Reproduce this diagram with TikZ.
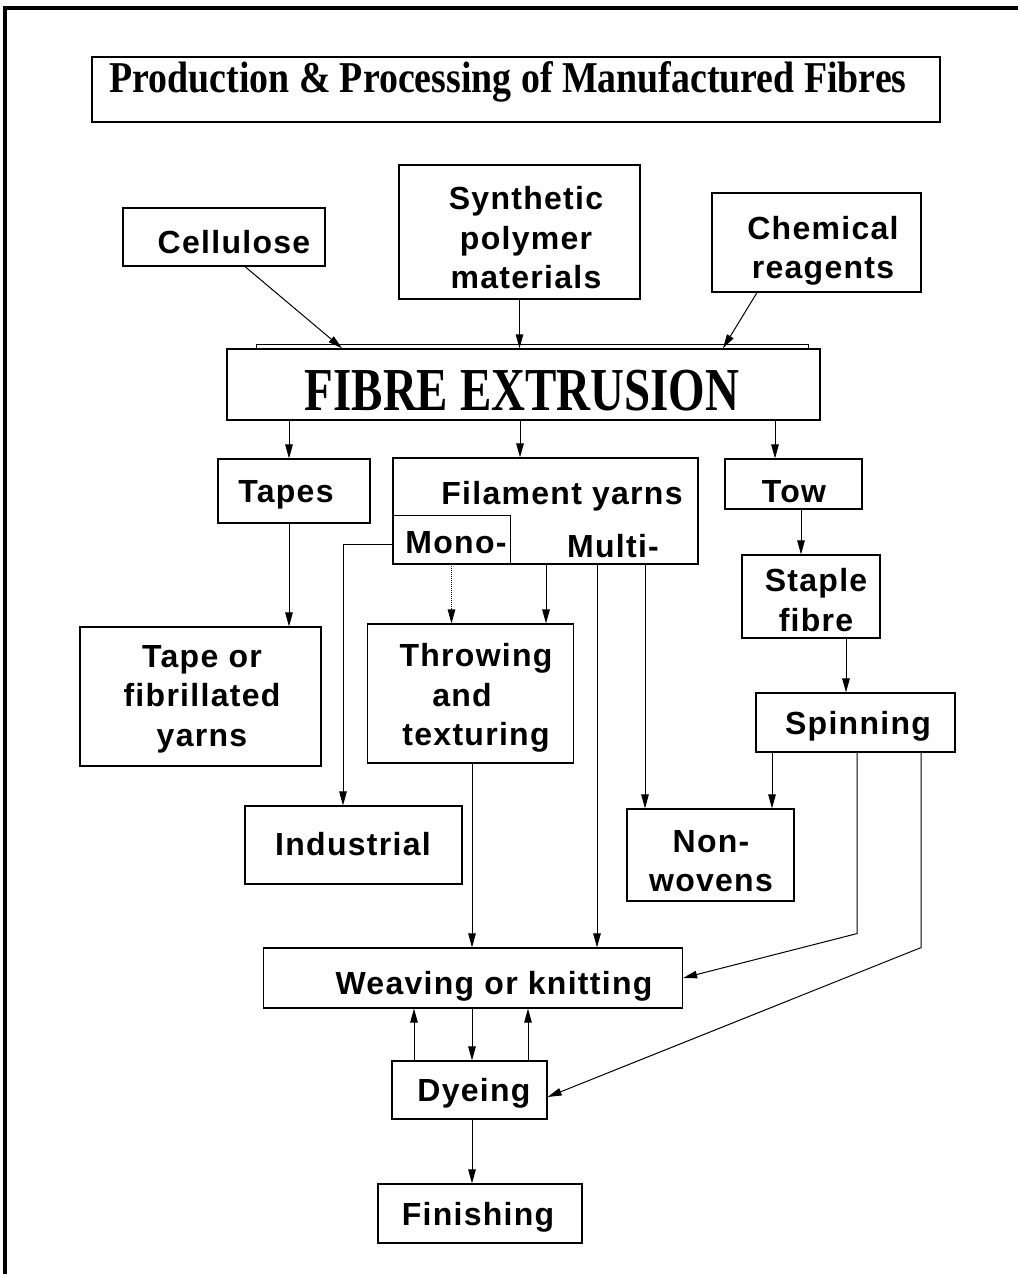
\documentclass[tikz,border=0pt]{standalone}
\usepackage{graphicx}
\usepackage{fontspec}
\setmainfont{Liberation Serif}
\newfontfamily\lblfont{Liberation Sans}[LetterSpace=4]
\usetikzlibrary{arrows.meta}
\tikzset{
  box/.style={draw, line width=1.15pt, inner sep=0pt, rectangle},
  lbl/.style={font=\lblfont\bfseries\fontsize{32}{39.5}\selectfont, align=center, inner sep=0pt},
  arr/.style={line width=1pt, -{Triangle[length=14pt,width=7.5pt]}},
  border/.style={line width=3.5pt},
}
\begin{document}
\begin{tikzpicture}[x=1pt,y=-1pt]
\useasboundingbox (0,0) rectangle (1018,1274);
% page border (top and left)
\draw[border] (5,1274) -- (5,8) -- (1018,8);

% boxes
\node[box, line width=1.5pt, minimum width=848pt, minimum height=65pt] (title) at (516,89.5) {};
\node[box, minimum width=202pt, minimum height=58pt] (cell) at (224,237) {};
\node[box, minimum width=241pt, minimum height=134pt] (syn) at (519.5,232) {};
\node[box, minimum width=209pt, minimum height=99pt] (chem) at (816.5,242.5) {};
\node[box, line width=1.5pt, minimum width=593pt, minimum height=71pt] (ext) at (523.5,384.5) {};
\node[box, minimum width=152pt, minimum height=64pt] (tapes) at (294,491) {};
\node[box, minimum width=305pt, minimum height=106pt] (fil) at (545.5,511) {};
\node[inner sep=0pt, minimum width=117pt, minimum height=48pt] (mono) at (451.5,540) {};
\node[box, minimum width=137pt, minimum height=50pt] (tow) at (793.5,484) {};
\node[box, minimum width=241pt, minimum height=139pt] (tfy) at (200.5,696.5) {};
\node[box, minimum width=206pt, minimum height=139pt] (thr) at (470.5,693.5) {};
\node[box, minimum width=217pt, minimum height=78pt] (ind) at (353.5,845) {};
\node[box, minimum width=138pt, minimum height=83pt] (stap) at (811,596.5) {};
\node[box, minimum width=199pt, minimum height=59pt] (spin) at (855.5,722.5) {};
\node[box, minimum width=167pt, minimum height=92pt] (nonw) at (710.5,855) {};
\node[box, minimum width=419pt, minimum height=60pt] (weav) at (473,978) {};
\node[box, minimum width=155pt, minimum height=58pt] (dye) at (469.5,1090) {};
\node[box, minimum width=204pt, minimum height=59pt] (fin) at (480,1213.5) {};

% mono sub-box edges
\draw[line width=1.15pt] (mono.north west) -- (mono.north east) -- (mono.south east);
% thin strip above extrusion box
\draw[line width=0.7pt] ([xshift=30pt]ext.north west) -- ([xshift=30pt,yshift=4pt]ext.north west)
  -- ([xshift=-12pt,yshift=4pt]ext.north east) -- ([xshift=-12pt]ext.north east);

% texts
\node[inner sep=0pt, font=\bfseries\fontsize{44}{46}\selectfont] (titleT) at (508,82) {\scalebox{0.86}[1]{Production \& Processing of Manufactured Fibres}};
\node[inner sep=0pt, font=\bfseries\fontsize{61}{61}\selectfont] (extT) at (522,391) {\scalebox{0.77}[1]{FIBRE EXTRUSION}};
\node[lbl] (cellT) at (234,242) {Cellulose};
\node[lbl] (synT) at (526,238) {Synthetic\\polymer\\materials};
\node[lbl] (chemT) at (823,251) {Chemical\\reagents};
\node[lbl] (tapesT) at (286,495) {Tapes};
\node[lbl] (filT) at (562,496) {Filament yarns};
\node[lbl] (monoT) at (456,543) {Mono-};
\node[lbl] (multiT) at (613,546) {Multi-};
\node[lbl] (towT) at (794,492) {Tow};
\node[lbl] (tfyT) at (202,699) {Tape or\\fibrillated\\yarns};
\node[lbl] (thrT) at (476,698) {Throwing\\\hspace*{-28pt}and\\texturing};
\node[lbl] (indT) at (353,844) {Industrial};
\node[lbl] (stapT) at (816,600) {Staple\\fibre};
\node[lbl] (spinT) at (858,726) {Spinning};
\node[lbl] (nonwT) at (711,861) {Non-\\wovens};
\node[lbl] (weavT) at (494,986) {Weaving or knitting};
\node[lbl] (dyeT) at (474,1093) {Dyeing};
\node[lbl] (finT) at (478,1217) {Finishing};

% connectors
\draw[arr] ([xshift=21pt]cell.south) -- ([xshift=-181.5pt]ext.north);
\draw[arr] (syn.south) -- (syn.south |- ext.north);
\draw[arr] ([xshift=-59.5pt]chem.south) -- ([xshift=199.5pt]ext.north);

\draw[arr] ([xshift=-5pt]tapes.north |- ext.south) -- ([xshift=-5pt]tapes.north);
\draw[arr] ([xshift=-25.5pt]fil.north |- ext.south) -- ([xshift=-25.5pt]fil.north);
\draw[arr] ([xshift=-18.5pt]tow.north |- ext.south) -- ([xshift=-18.5pt]tow.north);

\draw[arr] ([xshift=-5pt]tapes.south) -- ([xshift=-5pt]tapes.south |- tfy.north);
\draw[arr] ([xshift=7.5pt]tow.south) -- ([xshift=7.5pt]tow.south |- stap.north);
\draw[arr] ([xshift=35pt]stap.south) -- ([xshift=35pt]stap.south |- spin.north);
\draw[arr] ([xshift=-83.5pt]spin.south) -- ([xshift=-83.5pt]spin.south |- nonw.north);

\draw[arr, densely dotted] (mono.south) -- (mono.south |- thr.north);
\draw[arr] ([xshift=0.5pt]fil.south) -- ([xshift=0.5pt]fil.south |- thr.north);
\draw[arr] ([xshift=51.5pt]fil.south) -- ([xshift=51.5pt]fil.south |- weav.north);
\draw[arr] ([xshift=99.5pt]fil.south) -- ([xshift=99.5pt]fil.south |- nonw.north);
\draw[arr] ([yshift=-4pt]mono.west) -| ([xshift=-10.5pt]ind.north);

\draw[arr] ([xshift=1.5pt]thr.south) -- ([xshift=1.5pt]thr.south |- weav.north);
\draw[arr] ([xshift=1.5pt]spin.south) -- ++(0,181) -- (weav.east);
\draw[arr] ([xshift=65.5pt]spin.south) -- ++(0,195) -- ([yshift=-7pt]dye.east);

\draw[arr] ([xshift=-55.5pt]dye.north) -- ([xshift=-55.5pt]dye.north |- weav.south);
\draw[arr] ([xshift=2.5pt]dye.north |- weav.south) -- ([xshift=2.5pt]dye.north);
\draw[arr] ([xshift=58.5pt]dye.north) -- ([xshift=58.5pt]dye.north |- weav.south);
\draw[arr] ([xshift=2.5pt]dye.south) -- ([xshift=2.5pt]dye.south |- fin.north);
\end{tikzpicture}
\end{document}
